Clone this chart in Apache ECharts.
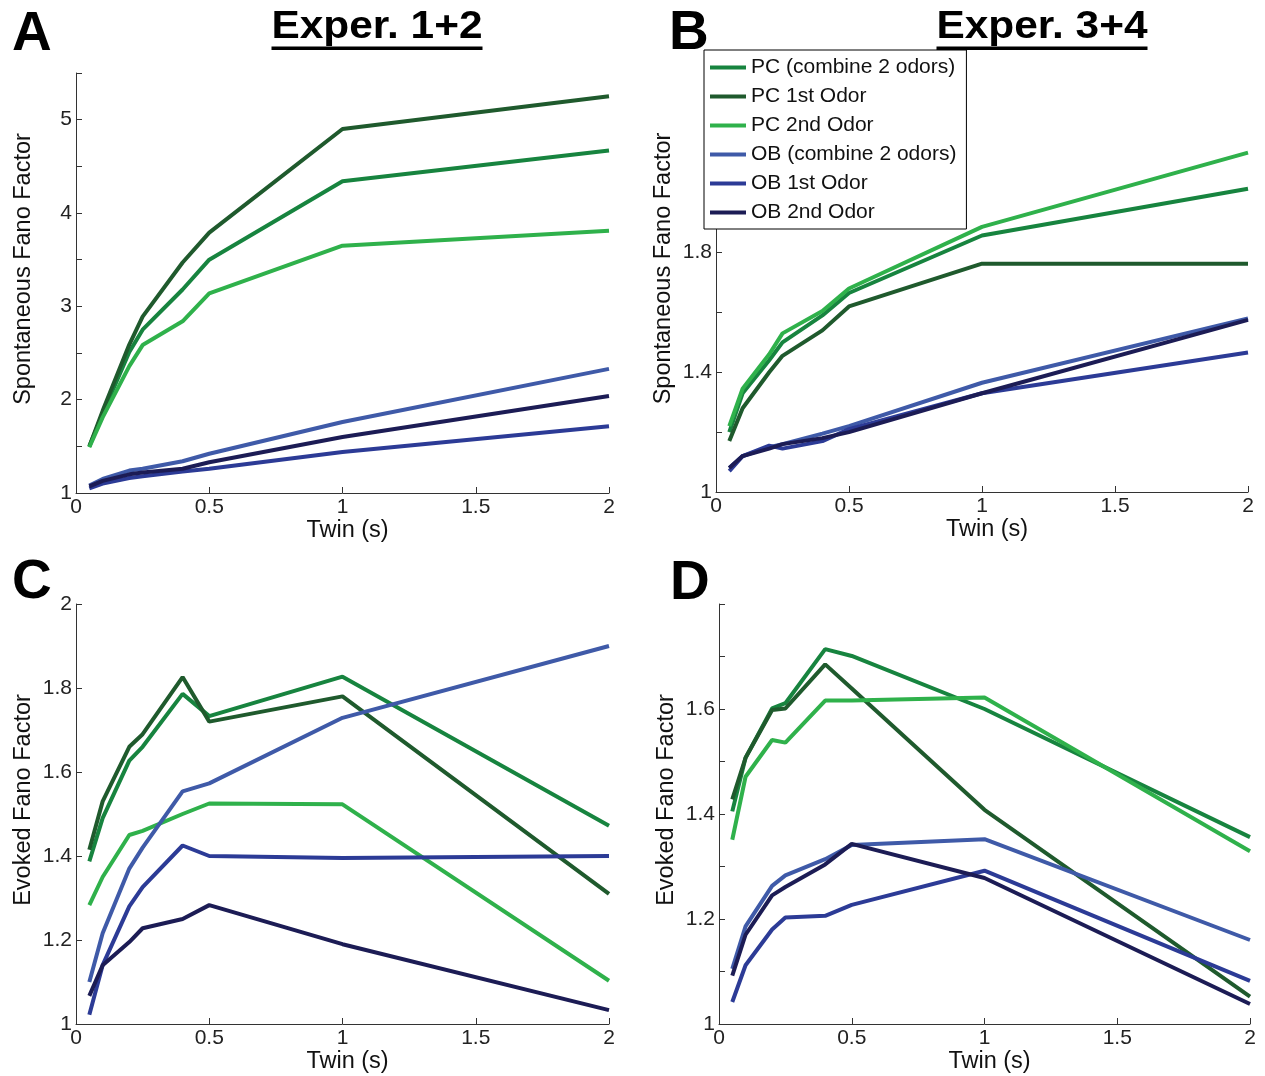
<!DOCTYPE html>
<html>
<head>
<meta charset="utf-8">
<script src="https://cdn.jsdelivr.net/npm/echarts@6/dist/echarts.min.js"></script>
<style>
html,body{margin:0;padding:0;background:#fff;}
#chart{width:1265px;height:1076px;}
</style>
</head>
<body>
<div id="chart"></div>
<script>
// ---- data ----
const twin = [0.05, 0.1, 0.2, 0.25, 0.4, 0.5, 1, 2];
const seriesNames = ['PC (combine 2 odors)', 'PC 1st Odor', 'PC 2nd Odor', 'OB (combine 2 odors)', 'OB 1st Odor', 'OB 2nd Odor'];
const panelTitles = ['Exper. 1+2', 'Exper. 3+4'];
const panelLetters = ['A', 'B', 'C', 'D'];
const yNames = ['Spontaneous Fano Factor', 'Spontaneous Fano Factor', 'Evoked Fano Factor', 'Evoked Fano Factor'];
const xName = 'Twin (s)';

// Panel A: spontaneous, Exper. 1+2
const A_pcComb = [1.50, 1.85, 2.51, 2.75, 3.18, 3.50, 4.34, 4.67];
const A_pc1    = [1.50, 1.88, 2.59, 2.89, 3.47, 3.79, 4.90, 5.25];
const A_pc2    = [1.49, 1.81, 2.36, 2.585, 2.84, 3.14, 3.65, 3.81];
const A_obComb = [1.08, 1.15, 1.24, 1.26, 1.34, 1.42, 1.76, 2.33];
const A_ob1    = [1.05, 1.10, 1.16, 1.18, 1.23, 1.26, 1.44, 1.715];
const A_ob2    = [1.07, 1.13, 1.20, 1.22, 1.26, 1.33, 1.60, 2.04];

// Panel B: spontaneous, Exper. 3+4
const B_pcComb = [1.20, 1.33, 1.44, 1.50, 1.59, 1.665, 1.857, 2.013];
const B_pc1    = [1.17, 1.28, 1.40, 1.455, 1.54, 1.62, 1.763, 1.763];
const B_pc2    = [1.22, 1.345, 1.46, 1.53, 1.605, 1.68, 1.886, 2.134];
const B_obComb = [1.08, 1.12, 1.15, 1.16, 1.195, 1.22, 1.365, 1.58];
const B_ob1    = [1.07, 1.12, 1.155, 1.145, 1.17, 1.21, 1.33, 1.466];
const B_ob2    = [1.08, 1.12, 1.145, 1.16, 1.18, 1.20, 1.33, 1.575];

// Panel C: evoked, Exper. 1+2
const C_pcComb = [1.387, 1.49, 1.627, 1.66, 1.786, 1.733, 1.827, 1.472];
const C_pc1    = [1.415, 1.53, 1.66, 1.69, 1.826, 1.72, 1.78, 1.31];
const C_pc2    = [1.283, 1.35, 1.45, 1.46, 1.50, 1.525, 1.523, 1.103];
const C_obComb = [1.10, 1.216, 1.37, 1.42, 1.554, 1.573, 1.729, 1.90];
const C_ob1    = [1.022, 1.14, 1.28, 1.326, 1.425, 1.40, 1.395, 1.40];
const C_ob2    = [1.067, 1.14, 1.195, 1.228, 1.25, 1.283, 1.19, 1.033];

// Panel D: evoked, Exper. 3+4
const D_pcComb = [1.405, 1.507, 1.601, 1.611, 1.714, 1.701, 1.60, 1.356];
const D_pc1    = [1.428, 1.507, 1.598, 1.601, 1.685, 1.639, 1.408, 1.052];
const D_pc2    = [1.351, 1.471, 1.541, 1.536, 1.616, 1.616, 1.622, 1.329];
const D_obComb = [1.105, 1.186, 1.263, 1.283, 1.314, 1.341, 1.352, 1.16];
const D_ob1    = [1.042, 1.112, 1.18, 1.203, 1.206, 1.227, 1.292, 1.082];
const D_ob2    = [1.092, 1.17, 1.245, 1.261, 1.304, 1.343, 1.278, 1.038];

const xTicks = [0, 0.5, 1, 1.5, 2];
const yLabelTicksA = [1, 2, 3, 4, 5];
const yLabelTicksB = [1, 1.4, 1.8];
const yLabelTicksC = [1, 1.2, 1.4, 1.6, 1.8, 2];
const yLabelTicksD = [1, 1.2, 1.4, 1.6];

// ---- styling ----
const FONT = '"Liberation Sans", Arial, Helvetica, sans-serif';
const colors = ['#17843f', '#1f5a2d', '#2fb14b', '#3f5aa8', '#2c3b96', '#1c1c55'];
const panels = [
  [A_pcComb, A_pc1, A_pc2, A_obComb, A_ob1, A_ob2],
  [B_pcComb, B_pc1, B_pc2, B_obComb, B_ob1, B_ob2],
  [C_pcComb, C_pc1, C_pc2, C_obComb, C_ob1, C_ob2],
  [D_pcComb, D_pc1, D_pc2, D_obComb, D_ob1, D_ob2]
];
const yRanges = [
  {min: 1, max: 5.5, interval: 0.5, labels: yLabelTicksA},
  {min: 1, max: 2.4, interval: 0.2, labels: yLabelTicksB},
  {min: 1, max: 2, interval: 0.2, labels: yLabelTicksC},
  {min: 1, max: 1.8, interval: 0.1, labels: yLabelTicksD}
];
const grids = [
  {left: 76, top: 73, width: 533, height: 420},
  {left: 716, top: 73, width: 532, height: 419},
  {left: 76, top: 604, width: 533, height: 420},
  {left: 719, top: 604, width: 531, height: 420}
];

const axisColor = '#333';
function hasLabel(list, v) {
  return list.some(t => Math.abs(t - v) < 1e-6);
}
const xAxes = grids.map((g, i) => ({
  type: 'value', gridIndex: i, min: 0, max: 2, interval: 0.5,
  name: xName, nameLocation: 'middle', nameGap: 21,
  nameTextStyle: {fontSize: 23.5, color: '#111', fontFamily: FONT, padding: [0, 0, 0, 10]},
  axisLine: {show: true, onZero: false, lineStyle: {color: axisColor, width: 1}},
  axisTick: {show: true, inside: true, length: 6, lineStyle: {color: axisColor}},
  axisLabel: {fontSize: 21, color: '#222', margin: 4, fontFamily: FONT,
    showMinLabel: true, showMaxLabel: true,
    formatter: v => hasLabel(xTicks, v) ? String(+v.toFixed(2)) : ''},
  splitLine: {show: false}
}));
const yAxes = grids.map((g, i) => ({
  type: 'value', gridIndex: i, min: yRanges[i].min, max: yRanges[i].max, interval: yRanges[i].interval,
  name: yNames[i], nameLocation: 'middle', nameGap: 40, nameRotate: 90,
  nameTextStyle: {fontSize: 23.5, color: '#111', fontFamily: FONT, padding: [0, 0, 0, 28]},
  axisLine: {show: true, onZero: false, lineStyle: {color: axisColor, width: 1}},
  axisTick: {show: true, inside: true, length: 6, lineStyle: {color: axisColor}},
  axisLabel: {fontSize: 21, color: '#222', margin: 4, fontFamily: FONT,
    showMinLabel: true, showMaxLabel: true,
    formatter: v => hasLabel(yRanges[i].labels, v) ? String(+v.toFixed(2)) : ''},
  splitLine: {show: false}
}));

const series = [];
panels.forEach((arrs, p) => {
  arrs.forEach((vals, k) => {
    series.push({
      type: 'line', name: seriesNames[k], xAxisIndex: p, yAxisIndex: p,
      data: twin.map((x, j) => [x, vals[j]]),
      symbol: 'none', showSymbol: false,
      lineStyle: {width: 4, color: colors[k]},
      itemStyle: {color: colors[k]},
      emphasis: {disabled: true},
      z: 2 + k
    });
  });
});

// measure text width for title scaling
function textWidth(txt, font) {
  const c = document.createElement('canvas').getContext('2d');
  c.font = font;
  return c.measureText(txt).width;
}
const titleFont = 'bold 38px ' + FONT;
const titleCenters = [377, 1042];
const titleWidth = 211;
const graphics = [];
titleCenters.forEach((cx, i) => {
  const w = textWidth(panelTitles[i], titleFont);
  graphics.push({type: 'text', x: cx, y: 28, scaleX: titleWidth / w, z: 10,
    style: {text: panelTitles[i], font: titleFont, fill: '#000', align: 'center', verticalAlign: 'middle'}});
  graphics.push({type: 'rect', shape: {x: cx - titleWidth / 2, y: 46.5, width: titleWidth, height: 3.5}, z: 10,
    style: {fill: '#000'}});
});
const letterPos = [[12, 35], [669, 34], [12, 583], [670, 584]];
panelLetters.forEach((L, i) => {
  graphics.push({type: 'text', x: letterPos[i][0], y: letterPos[i][1], z: 10,
    style: {text: L, font: 'bold 55px ' + FONT, fill: '#000', verticalAlign: 'middle', align: 'left'}});
});

const chart = echarts.init(document.getElementById('chart'), null, {renderer: 'canvas'});
chart.setOption({
  animation: false,
  backgroundColor: '#fff',
  grid: grids,
  xAxis: xAxes,
  yAxis: yAxes,
  series: series,
  legend: {
    data: seriesNames,
    orient: 'vertical', left: 704, top: 50,
    padding: [7, 10, 6, 6], itemGap: 8,
    itemWidth: 36, itemHeight: 4, icon: 'rect',
    backgroundColor: '#fff', borderColor: '#000', borderWidth: 1,
    textStyle: {fontSize: 21, color: '#111', fontFamily: FONT, lineHeight: 21},
    selectedMode: false, z: 20
  },
  graphic: graphics
});
</script>
</body>
</html>
